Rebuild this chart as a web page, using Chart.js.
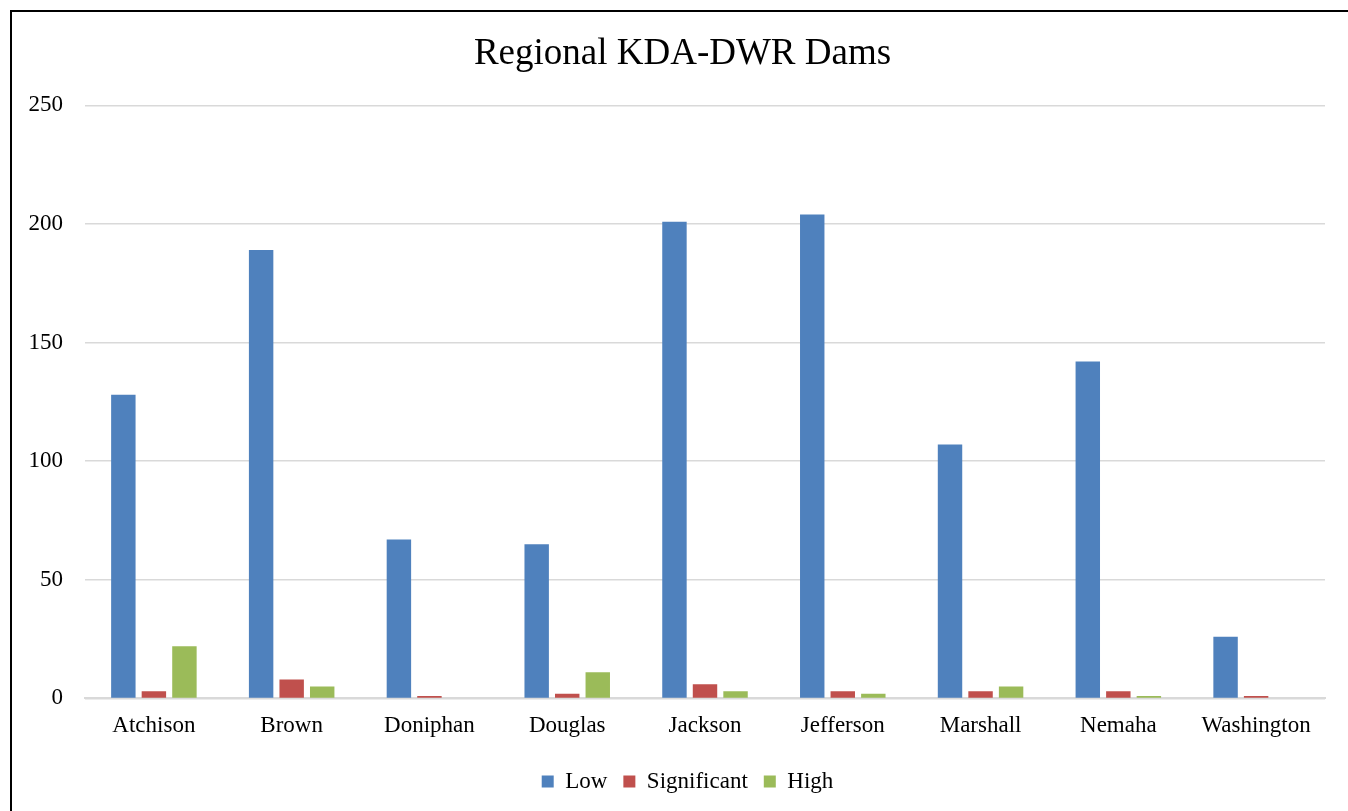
<!DOCTYPE html>
<html>
<head>
<meta charset="utf-8">
<script src="https://cdn.jsdelivr.net/npm/chart.js@4/dist/chart.umd.min.js"></script>
<style>
  html, body { margin: 0; padding: 0; background: #fff; }
  #wrap { position: absolute; left: 0; top: 0; width: 1348px; height: 811px; }
  #frame { position: absolute; left: 10px; top: 10px; width: 1400px; height: 900px; border-left: 2px solid #000; border-top: 2px solid #000; pointer-events: none; }
</style>
</head>
<body>
<div id="wrap"><canvas id="c" width="1348" height="811"></canvas></div>
<div id="frame"></div>
<script>
const categories = ["Atchison", "Brown", "Doniphan", "Douglas", "Jackson", "Jefferson", "Marshall", "Nemaha", "Washington"];
const lowValues = [128, 189, 67, 65, 201, 204, 107, 142, 26];
const significantValues = [3, 8, 1, 2, 6, 3, 3, 3, 1];
const highValues = [22, 5, 0, 11, 3, 2, 5, 1, 0];
const yTicks = [0, 50, 100, 150, 200, 250];

const serif = "'Liberation Serif', 'Times New Roman', serif";

const shiftBoxes = {
  id: 'shiftBoxes',
  afterLayout(chart) {
    if (chart.titleBlock) { chart.titleBlock.left += 20; chart.titleBlock.right += 20; }
    if (chart.legend) { chart.legend.left += 25; chart.legend.right += 25; }
  }
};

new Chart(document.getElementById('c'), {
  type: 'bar',
  data: {
    labels: categories,
    datasets: [
      { label: 'Low', data: lowValues, backgroundColor: '#4F81BD' },
      { label: 'Significant', data: significantValues, backgroundColor: '#C0504D' },
      { label: 'High', data: highValues, backgroundColor: '#9BBB59' }
    ]
  },
  plugins: [shiftBoxes],
  options: {
    responsive: false,
    animation: false,
    layout: { padding: { left: 0, right: 23, top: 0, bottom: 8 } },
    datasets: { bar: { categoryPercentage: 0.665, barPercentage: 0.8 } },
    plugins: {
      title: {
        display: true,
        text: 'Regional KDA-DWR Dams',
        color: '#000',
        font: { family: serif, size: 37, weight: 'normal' },
        padding: { top: 32, bottom: 29 }
      },
      legend: {
        position: 'bottom',
        labels: {
          color: '#000',
          font: { family: serif, size: 23 },
          boxWidth: 12,
          boxHeight: 12,
          padding: 16
        }
      },
      tooltip: { enabled: false }
    },
    scales: {
      x: {
        grid: { display: false, drawTicks: false },
        border: { display: true, color: '#d9d9d9', width: 2 },
        ticks: { color: '#000', font: { family: serif, size: 23 }, padding: 14 }
      },
      y: {
        min: 0,
        max: 250,
        afterBuildTicks: (axis) => { axis.ticks = yTicks.map(v => ({ value: v })); },
        afterFit: (axis) => { axis.width = 85; },
        grid: { color: '#d9d9d9', lineWidth: 1.5, drawTicks: false },
        border: { display: false },
        ticks: { color: '#000', font: { family: serif, size: 23 }, padding: 22 }
      }
    }
  }
});
</script>
</body>
</html>
